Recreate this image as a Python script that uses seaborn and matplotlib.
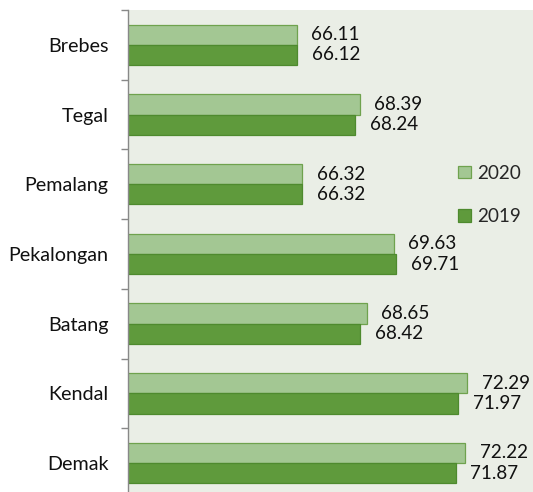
import matplotlib
matplotlib.use("Agg")
import matplotlib.pyplot as plt
from matplotlib.patches import Patch
import seaborn as sns
import pandas as pd

regions = ["Brebes", "Tegal", "Pemalang", "Pekalongan", "Batang", "Kendal", "Demak"]
years = ["2020", "2019"]
values_2020 = [66.11, 68.39, 66.32, 69.63, 68.65, 72.29, 72.22]
values_2019 = [66.12, 68.24, 66.32, 69.71, 68.42, 71.97, 71.87]

df = pd.DataFrame({
    "region": regions * 2,
    "year": ["2020"] * len(regions) + ["2019"] * len(regions),
    "value": values_2020 + values_2019,
})

sns.set_theme(style="white")
plt.rcParams["font.family"] = ["Lato", "DejaVu Sans"]

face = {"2020": "#a3c793", "2019": "#5f9a3c"}
edge = {"2020": "#6fa24e", "2019": "#4e8a2e"}

fig = plt.figure(figsize=(5.33, 4.92), dpi=100)
ax = fig.add_axes([128 / 533, 0, 1 - 128 / 533, 482 / 492])
ax.set_facecolor("#eaeee6")

sns.barplot(data=df, y="region", x="value", hue="year", hue_order=years,
            order=regions, palette=face, orient="h", width=0.58, ax=ax,
            legend=False, saturation=1)

for cont, yr in zip(ax.containers, years):
    for p in cont.patches:
        p.set_edgecolor(edge[yr])
        p.set_linewidth(0.9)
    ax.bar_label(cont, fmt="%.2f", padding=10.5, fontsize=13.6, color="#111111")

ax.set_xlim(60, 74.67)
ax.set_ylim(6.415, -0.5)
ax.set_xlabel("")
ax.set_ylabel("")
ax.set_xticks([])
ax.set_yticks([i - 0.5 for i in range(len(regions))], minor=False)
ax.set_yticklabels([])
ax.set_yticks(range(len(regions)), minor=True)
ax.set_yticklabels(regions, minor=True, fontsize=14.2, color="#111111")
ax.tick_params(axis="y", which="major", length=5, width=1, color="#888888", left=True)
ax.tick_params(axis="y", which="minor", length=0, pad=14)
for s in ["top", "right", "bottom"]:
    ax.spines[s].set_visible(False)
ax.spines["left"].set_color("#888888")
ax.spines["left"].set_linewidth(1)

handles = [Patch(facecolor=face[y], edgecolor=edge[y], linewidth=0.9) for y in years]
fig.legend(handles, years, loc="center left", bbox_to_anchor=(449 / 533, 1 - 195 / 492),
           frameon=False, fontsize=13.6, handlelength=0.65, handleheight=0.65,
           handletextpad=0.35, labelspacing=1.4, borderpad=0)

fig.savefig("out.png", dpi=100)
